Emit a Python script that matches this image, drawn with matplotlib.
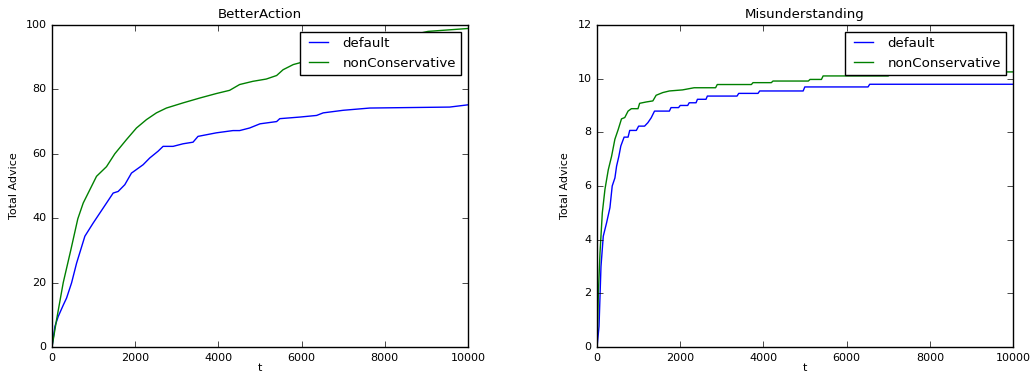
import matplotlib
matplotlib.use("Agg")
from matplotlib import pyplot as plt

# BetterAction
ba_t_default = [0, 70, 150, 270, 350, 470, 590, 790, 990, 1150, 1310, 1470, 1590, 1750,
                1910, 2190, 2350, 2550, 2670, 2910, 3150, 3390, 3510, 3950, 4350, 4510,
                4750, 5000, 5400, 5475, 5960, 6360, 6520, 7000, 7640, 9560, 10000]
ba_default = [0, 6.4, 9.5, 13, 15.2, 19.9, 26, 34.4, 38.5, 41.6, 44.7, 47.8, 48.3, 50.4,
              54, 56.6, 58.7, 60.8, 62.3, 62.3, 63.1, 63.6, 65.4, 66.5, 67.2, 67.2,
              68, 69.3, 70, 70.9, 71.4, 71.9, 72.7, 73.5, 74.2, 74.5, 75.2]
ba_t_noncons = [0, 110, 270, 450, 620, 750, 1070, 1310, 1510, 1790, 2030, 2270, 2510, 2750,
                3150, 3550, 3950, 4270, 4510, 4830, 5150, 5400, 5555, 5800, 6000, 7000,
                8000, 9040, 10000]
ba_noncons = [0, 8.5, 20, 30, 39.8, 44.7, 53, 56, 60, 64.4, 68, 70.6, 72.7, 74.2,
              75.8, 77.3, 78.7, 79.7, 81.5, 82.5, 83.2, 84.3, 86.1, 87.7, 88.4, 92,
              95, 98, 98.9]

# Misunderstanding
mu_t_default = [0, 48, 95, 150, 230, 310, 365, 430, 470, 524, 572, 651, 746, 786, 945,
                1000, 1143, 1223, 1302, 1382, 1739, 1779, 1960, 2000, 2180, 2215, 2380,
                2414, 2620, 2652, 3366, 3406, 3870, 3910, 4955, 4995, 6515, 6555, 10000]
mu_default = [0, 0.77, 3.0, 4.13, 4.63, 5.19, 6.0, 6.3, 6.74, 7.1, 7.49, 7.82, 7.82, 8.07,
              8.07, 8.23, 8.23, 8.36, 8.54, 8.79, 8.79, 8.92, 8.92, 9.0, 9.0, 9.1, 9.1,
              9.23, 9.23, 9.35, 9.35, 9.45, 9.45, 9.54, 9.54, 9.69, 9.69, 9.79, 9.79]
mu_t_noncons = [0, 32, 71, 127, 190, 270, 349, 429, 508, 588, 667, 746, 826, 985, 1024,
                1183, 1342, 1421, 1580, 1739, 2056, 2334, 2850, 2890, 3710, 3750, 4190,
                4230, 5080, 5120, 5395, 5435, 7000, 7040, 8400, 8440, 10000]
mu_noncons = [0, 2.0, 3.5, 5.0, 5.87, 6.6, 7.1, 7.74, 8.1, 8.5, 8.55, 8.79, 8.88, 8.88,
              9.08, 9.13, 9.17, 9.38, 9.48, 9.54, 9.58, 9.66, 9.66, 9.78, 9.78, 9.85,
              9.85, 9.91, 9.91, 9.97, 9.97, 10.1, 10.1, 10.15, 10.15, 10.25, 10.25]

plt.style.use("classic")
plt.rcParams["font.size"] = 8
plt.rcParams["figure.facecolor"] = "white"

fig = plt.figure(figsize=(10.34, 3.78), dpi=100)
ax1 = fig.add_axes([0.0503, 0.082, 0.4023, 0.852])
ax2 = fig.add_axes([0.5774, 0.082, 0.4023, 0.852])

ax1.plot(ba_t_default, ba_default, color="b", label="default")
ax1.plot(ba_t_noncons, ba_noncons, color="g", label="nonConservative")
ax1.set_xlim(0, 10000)
ax1.set_ylim(0, 100)
ax1.set_title("BetterAction")

ax2.plot(mu_t_default, mu_default, color="b", label="default")
ax2.plot(mu_t_noncons, mu_noncons, color="g", label="nonConservative")
ax2.set_xlim(0, 10000)
ax2.set_ylim(0, 12)
ax2.set_title("Misunderstanding")

for ax in (ax1, ax2):
    ax.set_xlabel("t", labelpad=0)
    ax.set_ylabel("Total Advice")
    ax.legend(loc="upper right")

fig.savefig("out.png", dpi=100, facecolor="white")
